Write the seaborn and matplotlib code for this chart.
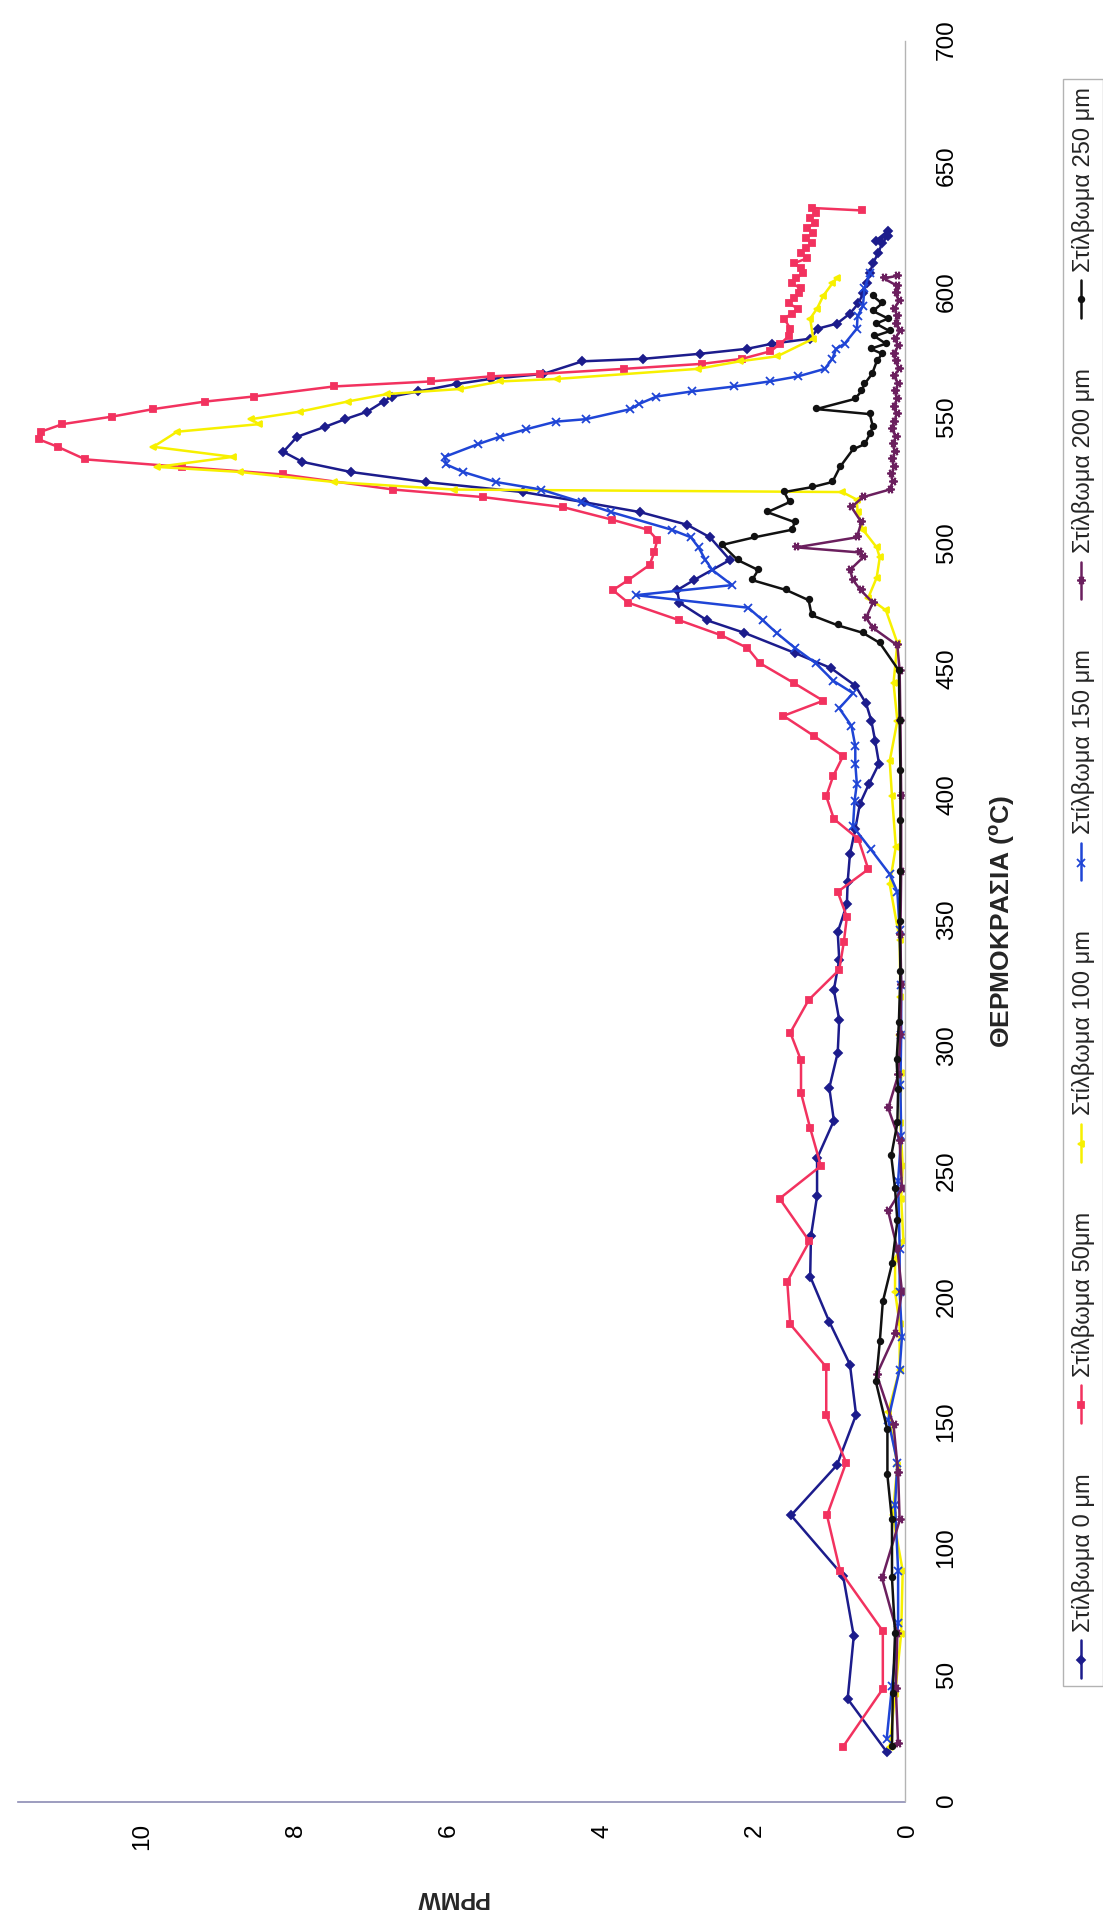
import numpy as np
import matplotlib
matplotlib.use("Agg")
import matplotlib.pyplot as plt
import seaborn as sns

# Temperature (°C) and concentration (PPMW) for each polishing thickness
temp_0 = [20, 41, 66, 90, 114, 134, 154, 174, 191, 209, 225, 241, 256, 271, 284, 298, 311, 323, 335, 346,
          357, 366, 377, 387, 397, 405, 413, 422, 430, 437, 444, 451, 457, 465, 470, 477, 482, 486, 494, 503,
          508, 513, 517, 521, 525, 529, 533, 537, 543, 547, 550, 553, 557, 559, 561, 564, 566, 568, 573, 574,
          576, 578, 580, 582, 586, 588, 592, 596, 600, 604, 608, 612, 616, 620, 623, 621, 625]
ppmw_0 = [0.24, 0.75, 0.67, 0.81, 1.49, 0.89, 0.64, 0.72, 0.99, 1.24, 1.23, 1.15, 1.15, 0.93, 0.99, 0.88, 0.86,
          0.93, 0.86, 0.88, 0.76, 0.75, 0.72, 0.65, 0.59, 0.47, 0.34, 0.39, 0.44, 0.51, 0.65, 0.97, 1.44, 2.10,
          2.59, 2.95, 2.98, 2.76, 2.29, 2.55, 2.85, 3.46, 4.20, 5.00, 6.27, 7.25, 7.88, 8.13, 7.95, 7.58, 7.32,
          7.03, 6.82, 6.71, 6.37, 5.86, 5.42, 4.73, 4.22, 3.42, 2.68, 2.06, 1.74, 1.24, 1.14, 0.89, 0.72, 0.61,
          0.55, 0.50, 0.46, 0.42, 0.35, 0.30, 0.22, 0.38, 0.22]

temp_50 = [22, 45, 68, 92, 114, 135, 154, 173, 190, 207, 223, 240, 253, 268, 282, 295, 306, 319, 331, 342,
           352, 362, 371, 383, 391, 400, 408, 416, 424, 432, 438, 445, 453, 459, 464, 470, 477, 482, 486, 492,
           497, 502, 506, 510, 515, 519, 522, 528, 531, 534, 539, 542, 545, 548, 551, 554, 557, 559, 563, 565,
           567, 568, 570, 572, 574, 577, 580, 583, 586, 590, 592, 594, 596, 598, 600, 602, 604, 606, 608, 610,
           612, 614, 616, 618, 620, 622, 624, 626, 628, 630, 632, 634, 633]
ppmw_50 = [0.81, 0.29, 0.29, 0.85, 1.02, 0.77, 1.03, 1.03, 1.50, 1.54, 1.25, 1.64, 1.10, 1.24, 1.36, 1.36,
           1.50, 1.26, 0.86, 0.80, 0.76, 0.88, 0.48, 0.61, 0.93, 1.03, 0.94, 0.81, 1.19, 1.59, 1.07, 1.45, 1.90,
           2.06, 2.40, 2.95, 3.62, 3.82, 3.62, 3.34, 3.28, 3.24, 3.36, 3.83, 4.47, 5.52, 6.69, 8.14, 9.45, 10.72,
           11.08, 11.33, 11.30, 11.02, 10.37, 9.83, 9.15, 8.52, 7.47, 6.20, 5.42, 4.77, 3.68, 2.65, 2.13, 1.76,
           1.63, 1.52, 1.50, 1.58, 1.48, 1.40, 1.52, 1.45, 1.38, 1.36, 1.48, 1.42, 1.34, 1.36, 1.45, 1.28, 1.36,
           1.30, 1.22, 1.30, 1.20, 1.28, 1.18, 1.24, 1.16, 1.22, 0.56]

temp_100 = [22, 43, 67, 92, 114, 134, 155, 172, 190, 203, 216, 223, 240, 253, 270, 290, 305, 320, 343, 365,
            380, 400, 414, 430, 445, 461, 474, 479, 487, 495, 499, 506, 513, 518, 521, 522, 525, 529, 531, 535,
            539, 545, 548, 550, 553, 557, 560, 562, 565, 566, 570, 573, 575, 582, 590, 594, 599, 604, 606]
ppmw_100 = [0.20, 0.13, 0.05, 0.03, 0.16, 0.10, 0.22, 0.07, 0.07, 0.13, 0.13, 0.02, 0.05, 0.03, 0.06, 0.05,
            0.08, 0.06, 0.07, 0.20, 0.12, 0.17, 0.20, 0.10, 0.15, 0.10, 0.25, 0.48, 0.37, 0.33, 0.37, 0.55, 0.62,
            0.63, 0.82, 5.90, 7.47, 8.70, 9.78, 8.79, 9.83, 9.52, 8.45, 8.55, 7.91, 7.29, 6.77, 5.82, 5.29, 4.55,
            2.71, 2.16, 1.67, 1.20, 1.24, 1.15, 1.07, 0.95, 0.89]

temp_150 = [25, 46, 71, 92, 118, 135, 152, 172, 185, 203, 220, 247, 265, 285, 305, 325, 347, 362, 369, 379,
            388, 398, 405, 413, 420, 428, 435, 441, 446, 453, 459, 465, 470, 475, 480, 484, 490, 494, 499, 503,
            506, 513, 517, 522, 525, 529, 532, 535, 540, 543, 546, 549, 550, 554, 556, 559, 561, 563, 565, 567,
            570, 574, 578, 580, 586, 591, 595, 602, 608]
ppmw_150 = [0.24, 0.17, 0.09, 0.09, 0.13, 0.10, 0.22, 0.07, 0.04, 0.07, 0.07, 0.09, 0.05, 0.06, 0.05, 0.05,
            0.07, 0.10, 0.20, 0.45, 0.68, 0.66, 0.63, 0.65, 0.65, 0.70, 0.86, 0.68, 0.94, 1.17, 1.44, 1.68, 1.86,
            2.05, 3.52, 2.26, 2.52, 2.61, 2.70, 2.80, 3.05, 3.84, 4.23, 4.76, 5.35, 5.78, 6.00, 6.02, 5.59, 5.30,
            4.95, 4.57, 4.17, 3.59, 3.48, 3.25, 2.79, 2.23, 1.77, 1.40, 1.05, 0.95, 0.90, 0.79, 0.63, 0.62, 0.55,
            0.53, 0.46]

temp_200 = [23, 45, 67, 89, 112, 131, 150, 170, 186, 203, 220, 235, 244, 263, 276, 289, 305, 325, 345, 370,
            400, 430, 450, 460, 467, 471, 477, 482, 486, 490, 495, 497, 499, 503, 509, 515, 519, 522, 525, 528,
            531, 534, 537, 540, 543, 546, 549, 552, 555, 558, 561, 564, 567, 570, 573, 576, 579, 582, 585, 588,
            591, 594, 597, 600, 603, 606, 607]
ppmw_200 = [0.09, 0.12, 0.10, 0.30, 0.07, 0.09, 0.15, 0.37, 0.13, 0.04, 0.10, 0.22, 0.04, 0.07, 0.22, 0.09,
            0.06, 0.05, 0.06, 0.05, 0.05, 0.06, 0.07, 0.10, 0.42, 0.51, 0.42, 0.58, 0.68, 0.72, 0.55, 0.60, 1.42,
            0.63, 0.57, 0.70, 0.55, 0.20, 0.16, 0.18, 0.14, 0.17, 0.13, 0.16, 0.12, 0.17, 0.14, 0.11, 0.15, 0.10,
            0.13, 0.09, 0.14, 0.08, 0.12, 0.15, 0.09, 0.13, 0.07, 0.12, 0.10, 0.14, 0.08, 0.12, 0.10, 0.28, 0.10]

temp_250 = [22, 43, 67, 89, 112, 130, 148, 167, 183, 199, 214, 231, 244, 257, 270, 283, 295, 310, 330, 350,
            370, 390, 410, 430, 450, 461, 465, 468, 472, 478, 482, 486, 490, 494, 500, 503, 506, 509, 513, 517,
            521, 523, 525, 531, 538, 540, 544, 547, 552, 554, 558, 561, 564, 568, 573, 576, 578, 580, 583, 585,
            588, 590, 593, 596, 599]
ppmw_250 = [0.17, 0.16, 0.13, 0.17, 0.17, 0.23, 0.23, 0.38, 0.33, 0.29, 0.17, 0.10, 0.13, 0.18, 0.10, 0.09,
            0.11, 0.08, 0.06, 0.07, 0.06, 0.06, 0.06, 0.07, 0.08, 0.33, 0.55, 0.88, 1.22, 1.26, 1.55, 2.00, 1.92,
            2.19, 2.39, 1.97, 1.48, 1.44, 1.80, 1.51, 1.58, 1.21, 0.95, 0.85, 0.68, 0.53, 0.46, 0.42, 0.46, 1.16,
            0.66, 0.57, 0.53, 0.43, 0.37, 0.30, 0.45, 0.25, 0.40, 0.20, 0.38, 0.22, 0.42, 0.30, 0.42]

series_names = ["Στίλβωμα 0 μm", "Στίλβωμα 50μm", "Στίλβωμα 100 μm",
                "Στίλβωμα 150 μm", "Στίλβωμα 200 μm", "Στίλβωμα 250 μm"]
x_ticks = list(range(0, 701, 50))
y_ticks = [0, 2, 4, 6, 8, 10]
x_label = r"ΘΕΡΜΟΚΡΑΣΙΑ ($^{\mathbf{o}}$C)"
y_label = "PPMW"

temps = [temp_0, temp_50, temp_100, temp_150, temp_200, temp_250]
values = [ppmw_0, ppmw_50, ppmw_100, ppmw_150, ppmw_200, ppmw_250]
colors = ["#1c1c8c", "#f2325f", "#f7f000", "#1f45d6", "#6b1f5e", "#111111"]
markers = ["D", "s", "^", "x", (6, 2, 0), "o"]
msizes = [4.0, 4.5, 4.5, 5.5, 6.0, 4.0]

sns.set_theme(style="white")
plt.rcParams["font.family"] = ["Liberation Sans", "DejaVu Sans"]
plt.rcParams["mathtext.fontset"] = "custom"
plt.rcParams["mathtext.rm"] = "Liberation Sans"
plt.rcParams["mathtext.bf"] = "Liberation Sans:bold"

W, H = 1924, 1103
fig = plt.figure(figsize=(W / 100, H / 100), dpi=100)
fig.patch.set_facecolor("white")
ax_left, ax_right, ax_bottom, ax_top = 121, 1881, 905, 18
ax = fig.add_axes([ax_left / W, (H - ax_bottom) / H,
                   (ax_right - ax_left) / W, (ax_bottom - ax_top) / H])
ax.set_facecolor("white")

for name, t, p, c, m, ms in zip(series_names, temps, values, colors, markers, msizes):
    sns.lineplot(x=t, y=p, ax=ax, sort=False, estimator=None, errorbar=None,
                 color=c, marker=m, markersize=ms, markeredgecolor=c,
                 markerfacecolor=c, markeredgewidth=1.3, linewidth=1.8, label=name)

ax.set_xlim(0, 700)
ax.set_ylim(0, 11.6)
ax.set_xticks(x_ticks)
ax.set_yticks(y_ticks)
ax.tick_params(axis="x", direction="in", length=5, width=1, color="#9a9a9a",
               pad=22, labelsize=17.5, labelcolor="black")
ax.tick_params(axis="y", direction="out", length=5, width=1, color="#8c8cb0",
               pad=12, labelsize=17.5, labelcolor="black")
for side in ("top", "right"):
    ax.spines[side].set_visible(False)
ax.spines["left"].set_color("#8c8cb4")
ax.spines["left"].set_linewidth(1.2)
ax.spines["bottom"].set_color("#b4b4b4")
ax.spines["bottom"].set_linewidth(1.0)

ax.set_xlabel(x_label, fontsize=19, fontweight="bold")
ax.xaxis.set_label_coords(0.5, -0.092)
ax.set_ylabel(y_label, fontsize=17, fontweight="bold")
ax.yaxis.set_label_coords(-0.049, 0.51)

handles, labels = ax.get_legend_handles_labels()
leg = ax.legend(handles, labels, ncol=6, loc="upper left",
                bbox_to_anchor=(236 / W, 0.0, (1843 - 236) / W, (H - 1063) / H),
                bbox_transform=fig.transFigure, mode="expand", borderaxespad=0,
                fontsize=17, frameon=True, fancybox=False, edgecolor="#a0a0a0",
                handlelength=1.6, handletextpad=0.35, borderpad=0.35)
leg.get_frame().set_linewidth(1.0)

# Draw in landscape, then turn the page a quarter turn counter-clockwise
fig.canvas.draw()
img = np.asarray(fig.canvas.buffer_rgba())
plt.imsave("out.png", np.ascontiguousarray(np.rot90(img, 1)))
